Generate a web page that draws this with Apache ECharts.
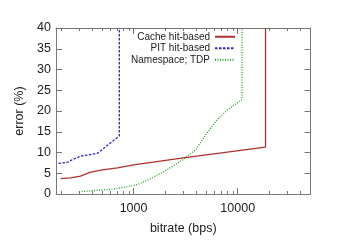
<!DOCTYPE html>
<html><head><meta charset="utf-8">
<script src="https://cdn.jsdelivr.net/npm/echarts@6/dist/echarts.min.js"></script>
<style>html,body{margin:0;padding:0;background:#fff}#c{width:351px;height:248px}</style>
</head><body><div id="c"></div>
<script>
const seriesNames = ['Cache hit-based', 'PIT hit-based', 'Namespace; TDP'];
const cacheHit = [[200,3.7],[250,3.9],[310,4.3],[380,5.2],[500,5.8],[700,6.3],[1000,7.0],[3000,8.7],[18500,11.3],[18500,40]];
const pitHit = [[190,7.4],[230,7.6],[260,8.3],[310,9.1],[450,9.8],[730,14.0],[730,40]];
const namespaceTdp = [[300,0.5],[450,0.9],[600,1.1],[800,1.6],[1100,2.3],[1400,3.5],[2000,5.5],[3000,8.3],[4000,10.8],[5000,14.5],[6300,17.8],[8000,20.3],[11000,22.8],[11000,40]];
const xMajorTicks = [1000, 10000];
const xMinorTicks = [200,300,400,500,600,700,800,900,2000,3000,4000,5000,6000,7000,8000,9000,20000,30000,40000,50000];
const yTicks = [0,5,10,15,20,25,30,35,40];

const font = 'Liberation Sans, Arial, sans-serif';
const axisColor = '#777';
const xMin = 180, xMax = 50000;

function xAx(pos, ticks, len, labels, line) {
  return {
    type: 'log', logBase: 10, min: xMin, max: xMax, position: pos,
    name: labels ? 'bitrate (bps)' : '', nameLocation: 'middle', nameGap: 28,
    nameTextStyle: {fontFamily: font, fontSize: 12.5, color: '#222'},
    axisLine: {show: line, onZero: false, lineStyle: {color: axisColor, width: 1}},
    axisTick: {show: true, inside: true, length: len, customValues: ticks, lineStyle: {color: axisColor}},
    axisLabel: labels ? {show: true, customValues: xMajorTicks, fontFamily: font, fontSize: 12.5, color: '#222', margin: 8,
                         formatter: v => String(Math.round(v))} : {show: false},
    splitLine: {show: false}, minorTick: {show: false}
  };
}
function yAx(pos, labels) {
  return {
    type: 'value', min: 0, max: 40, interval: 5, position: pos,
    name: labels ? 'error (%)' : '', nameLocation: 'middle', nameGap: 24,
    nameTextStyle: {fontFamily: font, fontSize: 12.5, color: '#222'},
    axisLine: {show: true, onZero: false, lineStyle: {color: axisColor, width: 1}},
    axisTick: {show: true, inside: true, length: 6, customValues: yTicks, lineStyle: {color: axisColor}},
    axisLabel: labels ? {show: true, customValues: yTicks, fontFamily: font, fontSize: 12.5, color: '#222', margin: 5} : {show: false},
    splitLine: {show: false}
  };
}

const chart = echarts.init(document.getElementById('c'), null, {renderer: 'canvas'});
chart.setOption({
  animation: false,
  backgroundColor: '#fff',
  grid: {left: 56, right: 40.5, top: 28, bottom: 54, containLabel: false},
  legend: {
    orient: 'vertical', right: 115, top: 31, align: 'right',
    itemWidth: 20, itemHeight: 8, itemGap: 0,
    padding: 0,
    itemStyle: {opacity: 0},
    textStyle: {fontFamily: font, fontSize: 10, color: '#222', lineHeight: 11.5, padding: [0, 0, 0, 0]},
    data: seriesNames
  },
  xAxis: [
    xAx('bottom', xMajorTicks, 6, true, true),
    xAx('bottom', xMinorTicks, 3, false, false),
    xAx('top', xMajorTicks, 6, false, true),
    xAx('top', xMinorTicks, 3, false, false)
  ],
  yAxis: [yAx('left', true), yAx('right', false)],
  series: [
    {name: seriesNames[0], type: 'line', data: cacheHit, symbol: 'none', xAxisIndex: 0, yAxisIndex: 0,
     lineStyle: {color: '#b03030', width: 1.3, type: 'solid'}, itemStyle: {color: '#b03030'}, clip: true},
    {name: seriesNames[1], type: 'line', data: pitHit, symbol: 'none', xAxisIndex: 0, yAxisIndex: 0,
     lineStyle: {color: '#2a2ab8', width: 1.3, type: [2.5, 1.5]}, itemStyle: {color: '#2a2ab8'}, clip: true},
    {name: seriesNames[2], type: 'line', data: namespaceTdp, symbol: 'none', xAxisIndex: 0, yAxisIndex: 0,
     lineStyle: {color: '#20a020', width: 1.3, type: [1, 1.5]}, itemStyle: {color: '#20a020'}, clip: true}
  ]
});
</script></body></html>
